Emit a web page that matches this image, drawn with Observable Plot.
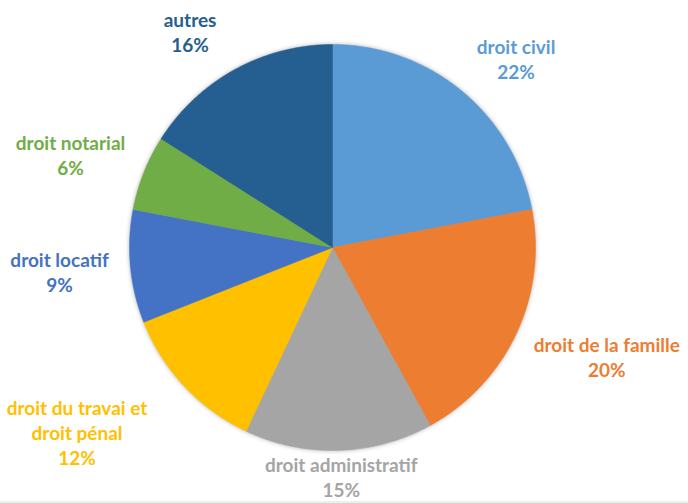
<!DOCTYPE html>
<html>
<head>
<meta charset="utf-8">
<script src="https://cdn.jsdelivr.net/npm/d3@7"></script>
<script src="https://cdn.jsdelivr.net/npm/@observablehq/plot@0.6"></script>
<style>
  html, body { margin: 0; padding: 0; background: #efefec; }
  #chart { width: 688px; height: 501px; background: #fff; overflow: hidden; }
  svg { display: block; }
</style>
</head>
<body>
<div id="chart"></div>
<script>
// ---- data ----
const categories = ["droit civil", "droit de la famille", "droit administratif", "droit du travai et\ndroit pénal", "droit locatif", "droit notarial", "autres"];
const shares = [22, 20, 15, 12, 9, 6, 16];
const colors = ["#5B9BD5", "#ED7D31", "#A5A5A5", "#FFC000", "#4472C4", "#70AD47", "#255E91"];

// ---- layout (not data) ----
const W = 688, H = 501;
const CX = 332, CY = 247, R = 203;
const FONT_SIZE = 19, LINE_H = 25;
const labelPad = [29, 27, 1, 54, 22, 24, 30];     // radial gap from rim
const labelTurn = [3, 0, 0, 4.5, 0, 0, -4.5];     // best-fit angular nudge (deg)

const rows = categories.map((c, i) => ({cat: c, share: shares[i], i}));
const arcs = d3.pie().sort(null).value(d => d.share).startAngle(0)(rows);

// slice outlines as polygons in pixel-like data units centered on pie
const slicePts = [];
arcs.forEach(a => {
  const cat = a.data.cat;
  slicePts.push({cat, x: 0, y: 0});
  const n = Math.max(2, Math.ceil((a.endAngle - a.startAngle) / (Math.PI / 360)));
  for (let k = 0; k <= n; k++) {
    const t = a.startAngle + (a.endAngle - a.startAngle) * k / n;
    slicePts.push({cat, x: R * Math.sin(t), y: -R * Math.cos(t)});
  }
  slicePts.push({cat, x: 0, y: 0});
});

// label positions (outside end, Excel-like)
const ctx = document.createElement("canvas").getContext("2d");
ctx.font = `bold ${FONT_SIZE}px Lato`;
const labels = arcs.map(a => {
  const d = a.data;
  const lines = (d.cat + "\n" + d.share + "%").split("\n");
  const w = d3.max(lines, l => ctx.measureText(l).width);
  const h = lines.length * LINE_H;
  const m = (a.startAngle + a.endAngle) / 2 + labelTurn[d.i] * Math.PI / 180;
  const s = Math.sin(m), c = -Math.cos(m);
  const r = R + labelPad[d.i];
  return {cat: d.cat, text: lines.join("\n"), x: r * s + s * w / 2, y: r * c + c * h / 2};
});

const chart = Plot.plot({
  width: W,
  height: H,
  margin: 0,
  x: {domain: [-CX, W - CX], range: [0, W], axis: null},
  y: {domain: [-CY, H - CY], range: [0, H], axis: null},
  color: {domain: categories, range: colors},
  style: {background: "#fff", overflow: "visible"},
  marks: [
    Plot.line(slicePts, {x: "x", y: "y", z: "cat", fill: "cat", stroke: "cat", strokeWidth: 0.5, curve: "linear"}),
    Plot.text(labels, {
      x: "x", y: "y", text: "text", fill: "cat",
      fontSize: FONT_SIZE, fontWeight: "bold", fontFamily: "Lato",
      lineHeight: LINE_H / FONT_SIZE, textAnchor: "middle", lineAnchor: "middle"
    })
  ]
});
d3.select(chart).select("g[aria-label=line]").style("filter", "drop-shadow(0 0 2px rgba(0,0,0,0.3))");
document.getElementById("chart").appendChild(chart);
</script>
</body>
</html>
